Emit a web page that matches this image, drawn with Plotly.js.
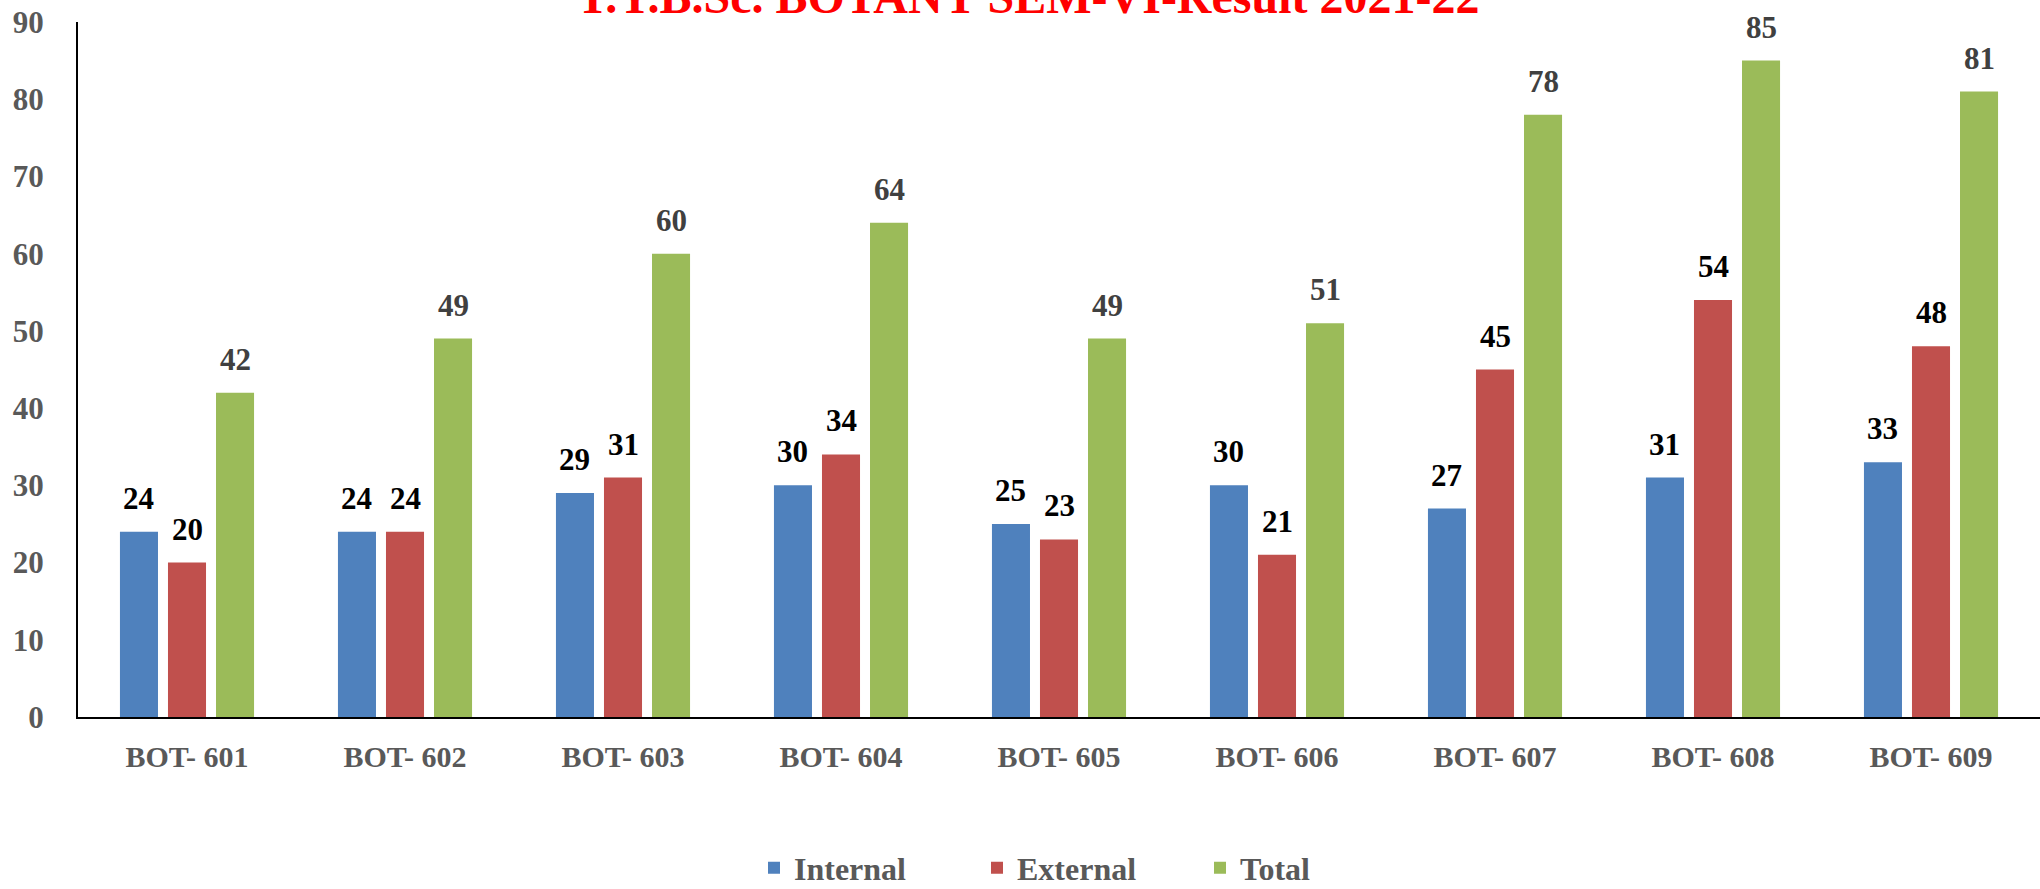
<!DOCTYPE html>
<html>
<head>
<meta charset="utf-8">
<script src="https://cdn.plot.ly/plotly-3.0.1.min.js"></script>
<style>html,body{margin:0;padding:0;background:#fff;}#chart{width:2040px;height:889px;}</style>
</head>
<body>
<div id="chart"></div>
<script>
var categories = ["BOT- 601","BOT- 602","BOT- 603","BOT- 604","BOT- 605","BOT- 606","BOT- 607","BOT- 608","BOT- 609"];
var internalVals = [24,24,29,30,25,30,27,31,33];
var externalVals = [20,24,31,34,23,21,45,54,48];
var totalVals = [42,49,60,64,49,51,78,85,81];
var seriesNames = ["Internal","External","Total"];
var yTicks = [0,10,20,30,40,50,60,70,80,90];

var W = 2040, H = 889;
var M = {l:78, r:0, t:22, b:172, autoexpand:false};
var BARGAP = 0.339, GROUPGAP = 0.208;
var serif = "'Liberation Serif','Times New Roman',serif";

var colors = ["#4F81BD","#C0504D","#9BBB59"];
var labelColors = ["#000000","#000000","#404040"];
var allVals = [internalVals, externalVals, totalVals];

var traces = allVals.map(function(v,i){
  return {type:'bar', name:seriesNames[i], x:categories, y:v,
    marker:{color:colors[i], line:{width:0}}, hoverinfo:'skip'};
});

var catPx = (W - M.l - M.r) / categories.length;
var slotPx = catPx * (1 - BARGAP) / 3;
var annotations = [];
allVals.forEach(function(v,i){
  v.forEach(function(val,j){
    annotations.push({x:categories[j], y:val, xref:'x', yref:'y', text:String(val),
      showarrow:false, yanchor:'bottom', xanchor:'center',
      xshift:(i-1)*slotPx, yshift:14,
      font:{family:serif, size:31, color:labelColors[i], weight:'bold'}});
  });
});

var layout = {
  width:W, height:H,
  margin:M,
  paper_bgcolor:'#fff', plot_bgcolor:'#fff',
  barmode:'group', bargap:BARGAP, bargroupgap:GROUPGAP,
  title:{text:'<b>T.Y.B.Sc. BOTANY SEM-VI-Result 2021-22</b>', xref:'container', yref:'container',
    x:0.504, xanchor:'center', y:1-13/889, yanchor:'bottom',
    font:{family:serif, size:48, color:'#FF0000'}},
  xaxis:{type:'category', showline:true, linecolor:'#000', linewidth:2, ticks:'', showgrid:false,
    zeroline:false, ticklabelstandoff:12,
    tickfont:{family:serif, size:30, color:'#595959', weight:'bold'}},
  yaxis:{range:[0,90], tickvals:yTicks, showline:true, linecolor:'#000', linewidth:2, ticks:'',
    showgrid:false, zeroline:false, ticklabelstandoff:26,
    tickfont:{family:serif, size:31, color:'#595959', weight:'bold'}},
  showlegend:true,
  legend:{orientation:'h', x:(754-M.l)/(W-M.l-M.r), xanchor:'left', y:-151/(H-M.t-M.b), yanchor:'middle',
    entrywidth:178, entrywidthmode:'pixels',
    font:{family:serif, size:32, color:'#595959', weight:'bold'}, bgcolor:'rgba(0,0,0,0)'},
  annotations:annotations
};

Plotly.newPlot('chart', traces, layout, {displayModeBar:false, staticPlot:true});
</script>
</body>
</html>
